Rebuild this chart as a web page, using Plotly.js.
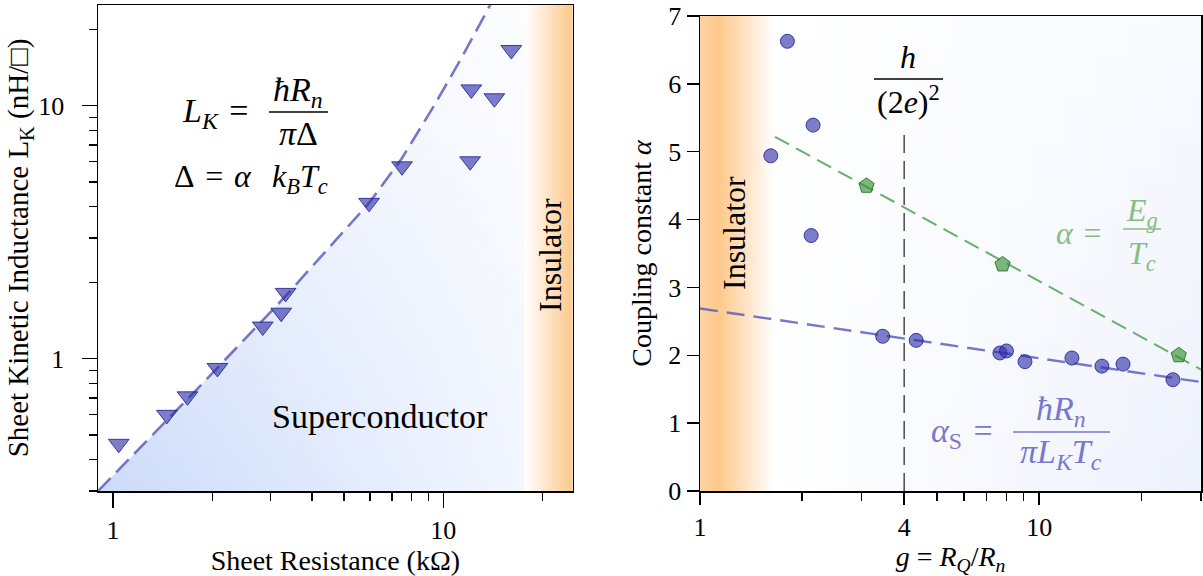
<!DOCTYPE html>
<html><head><meta charset="utf-8">
<script src="https://cdn.plot.ly/plotly-3.0.1.min.js"></script>
<style>html,body{margin:0;padding:0;background:#fff}#chart{width:1203px;height:576px}</style>
</head><body><div id="chart"></div>
<script>
// ---------- Left panel data ----------
const sheetR = [1.04, 1.455, 1.68, 2.07, 2.84, 3.23, 3.33, 5.96, 7.5, 12.06, 12.16, 14.28, 16.07];
const sheetL = [0.461, 0.60, 0.71, 0.919, 1.34, 1.52, 1.82, 4.13, 5.76, 6.03, 11.6, 10.7, 16.6];
const modelR = [0.9, 1.3, 1.8, 2.5, 3.29, 4.5, 5.96, 7.45, 9.35, 11.28, 13.87];
const modelL = [0.3, 0.4895, 0.760, 1.192, 1.738, 2.74, 4.125, 6.12, 9.94, 15.2, 25.0];
const scBoundaryR = 17.56;
const leftXRange = [0.9, 24.66];
const leftYRange = [0.3, 25.0];
const leftXMajor = [1, 10];
const leftXMinor = [2, 3, 4, 5, 6, 7, 8, 9, 20];
const leftYMajor = [1, 10];
const leftYMinor = [0.3, 0.4, 0.5, 0.6, 0.7, 0.8, 0.9, 2, 3, 4, 5, 6, 7, 8, 9, 20];

// ---------- Right panel data ----------
const gS = [1.617, 1.81, 2.127, 2.155, 3.456, 4.34, 7.66, 8.01, 9.08, 12.49, 15.31, 17.67, 24.8];
const alphaS = [4.94, 6.627, 3.765, 5.392, 2.28, 2.22, 2.034, 2.064, 1.906, 1.96, 1.84, 1.87, 1.64];
const gGap = [3.097, 7.8, 25.8];
const alphaGap = [4.497, 3.338, 2.0];
const fitSg = [1, 30];
const fitSalpha = [2.689, 1.606];
const fitGg = [1.664, 30];
const fitGalpha = [5.22, 1.79];
const gQ = [4, 4];
const gQalpha = [0, 5.33];
const insBoundaryG = 1.65;
const rightXRange = [1, 30];
const rightYRange = [0, 7];
const rightXMajor = [1, 4, 10];
const rightXMinor = [2, 3, 5, 6, 7, 8, 9, 20, 30];

// ---------- helpers (pixel -> paper) ----------
const ML = 98, MR = 2, MT = 5, MB = 85, W = 1203, H = 576;
const PW = W - ML - MR, PH = H - MT - MB;
const px = v => (v - ML) / PW;
const py = v => (H - MB - v) / PH;

const FONT = 'Liberation Serif, DejaVu Serif, serif';
const SP = '\u2004';
const blueMk = 'rgba(45,45,165,0.62)';
const blueEdge = 'rgba(35,35,150,0.85)';
const blueLine = 'rgba(95,95,190,0.85)';
const greenMk = 'rgba(45,140,45,0.62)';
const greenEdge = 'rgba(30,110,30,0.85)';
const greenLine = 'rgba(100,170,100,0.95)';

const leftPolyX = modelR.concat([scBoundaryR, scBoundaryR, leftXRange[0]]);
const leftPolyY = modelL.concat([leftYRange[1], leftYRange[0], leftYRange[0]]);
const rightBgX = [insBoundaryG, rightXRange[1], rightXRange[1], insBoundaryG];
const rightBgY = [rightYRange[0], rightYRange[0], rightYRange[1], rightYRange[1]];

const traces = [
  // left: superconductor gradient region
  {x: leftPolyX, y: leftPolyY, xaxis: 'x', yaxis: 'y', mode: 'none', fill: 'toself',
   fillgradient: {type: 'horizontal', colorscale: [[0, '#ccdbfa'], [1, '#f2f6fe']]},
   hoverinfo: 'skip', showlegend: false},
  {x: leftPolyX, y: leftPolyY, xaxis: 'x', yaxis: 'y', mode: 'none', fill: 'toself',
   fillgradient: {type: 'vertical', colorscale: [[0, 'rgba(255,255,255,0)'], [1, 'rgba(255,255,255,0.75)']]},
   hoverinfo: 'skip', showlegend: false},
  // left: insulator band
  {x: [scBoundaryR, leftXRange[1], leftXRange[1], scBoundaryR],
   y: [leftYRange[0], leftYRange[0], leftYRange[1], leftYRange[1]],
   xaxis: 'x', yaxis: 'y', mode: 'none', fill: 'toself',
   fillgradient: {type: 'horizontal', colorscale: [[0, '#ffffff'], [1, '#fdc88a']]},
   hoverinfo: 'skip', showlegend: false},
  // left: model curve
  {x: modelR, y: modelL, xaxis: 'x', yaxis: 'y', mode: 'lines',
   line: {color: blueLine, width: 2.6, dash: '18px,8px'}, showlegend: false},
  // left: data
  {x: sheetR, y: sheetL, xaxis: 'x', yaxis: 'y', mode: 'markers',
   marker: {symbol: 'triangle-down', size: 18, color: blueMk, line: {color: blueEdge, width: 1}},
   showlegend: false},

  // right: insulator band
  {x: [rightXRange[0], insBoundaryG, insBoundaryG, rightXRange[0]],
   y: [rightYRange[0], rightYRange[0], rightYRange[1], rightYRange[1]],
   xaxis: 'x2', yaxis: 'y2', mode: 'none', fill: 'toself',
   fillgradient: {type: 'horizontal', colorscale: [[0, '#fdd3a5'], [0.25, '#fdc88a'], [1, '#ffffff']]},
   hoverinfo: 'skip', showlegend: false},
  // right: background
  {x: rightBgX, y: rightBgY, xaxis: 'x2', yaxis: 'y2', mode: 'none', fill: 'toself',
   fillgradient: {type: 'horizontal', colorscale: [[0, '#ffffff'], [1, '#eef2fc']]},
   hoverinfo: 'skip', showlegend: false},
  {x: rightBgX, y: rightBgY, xaxis: 'x2', yaxis: 'y2', mode: 'none', fill: 'toself',
   fillgradient: {type: 'vertical', colorscale: [[0, 'rgba(255,255,255,0)'], [1, 'rgba(255,255,255,0.6)']]},
   hoverinfo: 'skip', showlegend: false},
  // right: quantum resistance line
  {x: gQ, y: gQalpha, xaxis: 'x2', yaxis: 'y2', mode: 'lines',
   line: {color: '#555555', width: 1.6, dash: '18px,8px'}, showlegend: false},
  // right: fits
  {x: fitSg, y: fitSalpha, xaxis: 'x2', yaxis: 'y2', mode: 'lines',
   line: {color: blueLine, width: 2.4, dash: '18px,9px'}, showlegend: false},
  {x: fitGg, y: fitGalpha, xaxis: 'x2', yaxis: 'y2', mode: 'lines',
   line: {color: greenLine, width: 2, dash: '16px,8px'}, showlegend: false},
  // right: data
  {x: gS, y: alphaS, xaxis: 'x2', yaxis: 'y2', mode: 'markers',
   marker: {symbol: 'circle', size: 14, color: blueMk, line: {color: blueEdge, width: 1}},
   showlegend: false},
  {x: gGap, y: alphaGap, xaxis: 'x2', yaxis: 'y2', mode: 'markers',
   marker: {symbol: 'pentagon', size: 16, color: greenMk, line: {color: greenEdge, width: 1}},
   showlegend: false}
];

const tickFont = {family: FONT, size: 26, color: '#000'};
const titleFont = {family: FONT, size: 28, color: '#000'};
const axisCommon = {showline: true, linecolor: '#000', linewidth: 1.5, mirror: true,
  ticks: 'outside', tickcolor: '#000', tickwidth: 1.5, showgrid: false, zeroline: false,
  tickfont: tickFont, automargin: false};

function ann(text, x, y, size, color, opts) {
  return Object.assign({text: text, x: px(x), y: py(y), xref: 'paper', yref: 'paper',
    showarrow: false, xanchor: 'center', yanchor: 'middle',
    font: {family: FONT, size: size, color: color}}, opts || {});
}
function bar(x0, x1, y, color) {
  return {type: 'line', xref: 'paper', yref: 'paper', x0: px(x0), x1: px(x1), y0: py(y), y1: py(y),
    line: {color: color, width: 1.6}, layer: 'above'};
}
const greenTxt = '#86bd86', blueTxt = '#7878cc', K = '#000';

const layout = {
  width: W, height: H, paper_bgcolor: '#fff', plot_bgcolor: 'rgba(0,0,0,0)',
  margin: {l: ML, r: MR, t: MT, b: MB},
  showlegend: false,
  xaxis: Object.assign({}, axisCommon, {
    type: 'log', domain: [0, px(572.7)], range: leftXRange.map(Math.log10),
    tickmode: 'array', tickvals: leftXMajor, ticktext: leftXMajor.map(String), ticklen: 15,
    minor: {tickmode: 'array', tickvals: leftXMinor, ticks: 'outside', ticklen: 8, tickwidth: 1.3, tickcolor: '#000'},
    title: {text: 'Sheet Resistance (kΩ)', font: titleFont, standoff: 2}, anchor: 'y'}),
  yaxis: Object.assign({}, axisCommon, {
    type: 'log', domain: [0, 1], range: leftYRange.map(Math.log10),
    tickmode: 'array', tickvals: leftYMajor, ticktext: leftYMajor.map(String), ticklen: 15,
    ticklabelstandoff: 12,
    minor: {tickmode: 'array', tickvals: leftYMinor, ticks: 'outside', ticklen: 8, tickwidth: 1.3, tickcolor: '#000'},
    title: {text: 'Sheet Kinetic Inductance L<sub>K</sub> (nH/□)', font: {family: FONT, size: 29, color: '#000'}, standoff: 0}, anchor: 'x'}),
  xaxis2: Object.assign({}, axisCommon, {
    type: 'log', domain: [px(700), 1], range: rightXRange.map(Math.log10),
    tickmode: 'array', tickvals: rightXMajor, ticktext: rightXMajor.map(String), ticklen: 12,
    minor: {tickmode: 'array', tickvals: rightXMinor, ticks: 'outside', ticklen: 8, tickwidth: 1.3, tickcolor: '#000'},
    title: {text: '<i>g</i> = <i>R</i><sub><i>Q</i></sub>/<i>R</i><sub><i>n</i></sub>', font: titleFont, standoff: 8}, anchor: 'y2'}),
  yaxis2: Object.assign({}, axisCommon, {
    domain: [0, py(16)], range: rightYRange, tickmode: 'linear', tick0: 0, dtick: 1, ticklen: 12,
    title: {text: 'Coupling constant <i>α</i>', font: titleFont, standoff: 8}, anchor: 'x2'}),
  annotations: [
    ann('<i>L</i><sub><i>K</i></sub>' + SP + '=' + SP, 262, 113, 34, K, {xanchor: 'right'}),
    ann('<i>ħR</i><sub><i>n</i></sub>', 298, 92, 34, K),
    ann('<i>π</i>Δ', 298, 134, 34, K),
    ann('Δ' + SP + '=' + SP + '<i>α</i>' + SP + SP + '<i>k</i><sub><i>B</i></sub><i>T</i><sub><i>c</i></sub>', 172, 178, 32, K, {xanchor: 'left'}),
    ann('Superconductor', 380, 416, 34, K),
    ann('Insulator', 550, 255, 32, K, {textangle: -90}),
    ann('Insulator', 734, 233, 32, K, {textangle: -90}),
    ann('<i>h</i>', 908, 57, 32, K),
    ann('(2<i>e</i>)<sup>2</sup>', 908, 100, 32, K),
    ann('<i>α</i>' + SP + '=' + SP, 1114, 233, 32, greenTxt, {xanchor: 'right'}),
    ann('<i>E</i><sub><i>g</i></sub>', 1142, 212, 32, greenTxt),
    ann('<i>T</i><sub><i>c</i></sub>', 1142, 256, 32, greenTxt),
    ann('<i>α</i><sub>S</sub>' + SP + '=' + SP, 1006, 433, 34, blueTxt, {xanchor: 'right'}),
    ann('<i>ħR</i><sub><i>n</i></sub>', 1061, 411, 34, blueTxt),
    ann('<i>πL</i><sub><i>K</i></sub><i>T</i><sub><i>c</i></sub>', 1061, 454, 34, blueTxt)
  ],
  shapes: [
    bar(269, 328, 112, '#000'),
    bar(874, 943, 79, '#000'),
    bar(1123, 1161, 229, greenTxt),
    bar(1013, 1110, 432, blueTxt)
  ]
};

Plotly.newPlot('chart', traces, layout, {displayModeBar: false, staticPlot: true});
</script>
</body></html>
